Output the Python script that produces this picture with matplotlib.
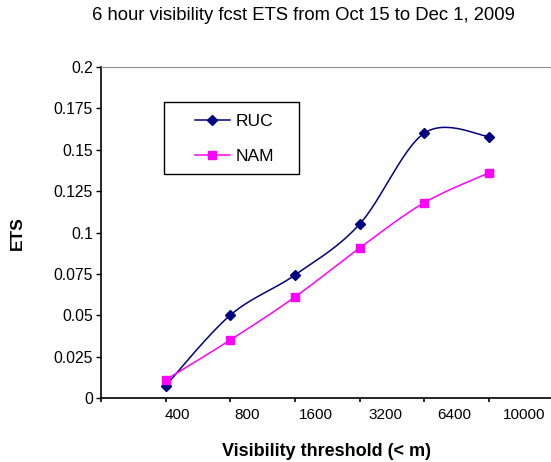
import numpy as np
import matplotlib
matplotlib.use("Agg")
import matplotlib.pyplot as plt
from matplotlib.patches import Rectangle

plt.rcParams['font.family'] = ['Liberation Sans', 'DejaVu Sans']

thresholds = ['400', '800', '1600', '3200', '6400', '10000']
ruc = [0.0073, 0.050, 0.0743, 0.105, 0.160, 0.158]
nam = [0.0109, 0.035, 0.061, 0.0906, 0.118, 0.136]


def smooth(x, y, n=30):
    # excel style smoothing (catmull-rom through the points)
    x = np.asarray(x, float)
    y = np.asarray(y, float)
    px = np.concatenate([[x[0]], x, [x[-1]]])
    py = np.concatenate([[y[0]], y, [y[-1]]])
    xs, ys = [], []
    t = np.linspace(0, 1, n)
    for i in range(1, len(px) - 2):
        for p, out in ((px, xs), (py, ys)):
            p0, p1, p2, p3 = p[i - 1], p[i], p[i + 1], p[i + 2]
            c1 = p1 + (p2 - p0) / 6
            c2 = p2 - (p3 - p1) / 6
            b = ((1 - t) ** 3 * p1 + 3 * (1 - t) ** 2 * t * c1
                 + 3 * (1 - t) * t ** 2 * c2 + t ** 3 * p2)
            out.extend(b)
    return np.array(xs), np.array(ys)


fig = plt.figure(figsize=(5.51, 4.62), dpi=100)
ax = fig.add_axes([0.183, 0.1385, 0.817, 0.7165])

xpos = np.arange(1, len(thresholds) + 1)

sx, sy = smooth(xpos, ruc)
ax.plot(sx, sy, color='#000080', lw=1.1)
ax.plot(xpos, ruc, ls='none', marker='D', ms=5.5, color='#000080')
ax.plot([], [], color='#000080', lw=1.1, marker='D', ms=5.5, label='RUC')

sx, sy = smooth(xpos, nam)
ax.plot(sx, sy, color='#FF00FF', lw=1.1)
ax.plot(xpos, nam, ls='none', marker='s', ms=6, color='#FF00FF')
ax.plot([], [], color='#FF00FF', lw=1.1, marker='s', ms=6, label='NAM')

ax.set_xlim(0, 6.96)
ax.set_ylim(0, 0.2)
ax.set_yticks(np.arange(0, 0.2001, 0.025))
ax.set_yticklabels(['0', '0.025', '0.05', '0.075', '0.1', '0.125', '0.15', '0.175', '0.2'])

ax.set_xticks(np.arange(0, 7))
ax.set_xticklabels([])
ax.set_xticks(1.19 + 1.07 * np.arange(len(thresholds)), minor=True)
ax.set_xticklabels(thresholds, minor=True)
ax.tick_params(axis='x', which='minor', length=0, pad=7, labelsize=11)
ax.tick_params(axis='x', which='major', direction='out', length=3, width=1.2)
ax.tick_params(axis='y', direction='out', length=3.6, width=1, labelsize=11.3, pad=2)

ax.spines['right'].set_visible(False)
ax.spines['top'].set_color('#8c8c8c')
ax.spines['left'].set_linewidth(1.2)
ax.spines['bottom'].set_linewidth(1.2)

fig.text(0.55, 0.967, '6 hour visibility fcst ETS from Oct 15 to Dec 1, 2009',
         ha='center', va='center', fontsize=13.3)
fig.text(0.593, 0.022, 'Visibility threshold (< m)', ha='center', va='center',
         fontsize=13, fontweight='bold')
fig.text(0.031, 0.495, 'ETS', ha='center', va='center', rotation=90,
         fontsize=12.5, fontweight='bold')

# legend box drawn like the excel one
W, H = 551.0, 462.0
fig.patches.append(Rectangle((164 / W, 1 - 174 / H), 135 / W, 72 / H,
                             transform=fig.transFigure, fill=False,
                             edgecolor='black', lw=1, zorder=5))
leg = ax.legend(loc='center left', bbox_to_anchor=(195 / W, 1 - 139 / H),
                bbox_transform=fig.transFigure, fontsize=12.5, frameon=False,
                handlelength=2.0, borderpad=0, labelspacing=1.1,
                handletextpad=0.35, borderaxespad=0)

fig.savefig('out.png', dpi=100)
